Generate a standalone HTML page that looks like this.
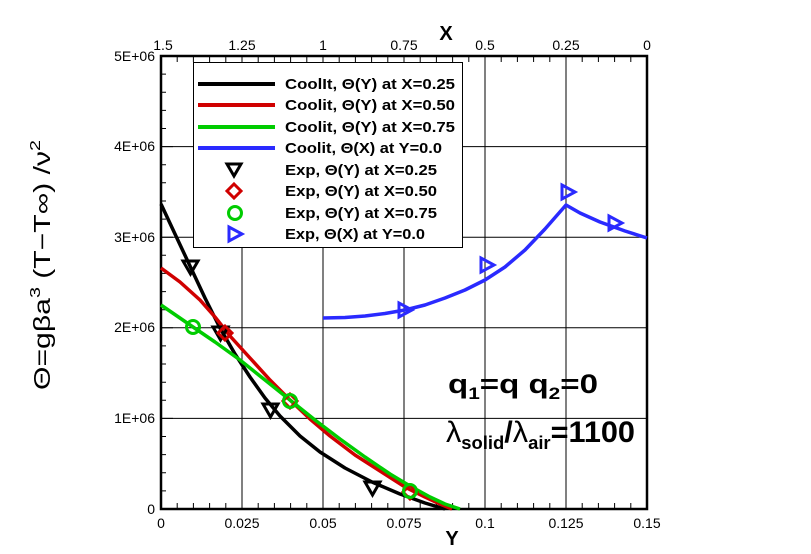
<!DOCTYPE html>
<html><head><style>body{margin:0;background:#fff}svg{display:block}</style></head><body>
<svg width="811" height="554" xmlns="http://www.w3.org/2000/svg" font-family="Liberation Sans, sans-serif">
<rect width="811" height="554" fill="#fff"/>
<g stroke="#000" stroke-width="1">
<line x1="242" y1="56" x2="242" y2="509"/><line x1="323" y1="56" x2="323" y2="509"/><line x1="404" y1="56" x2="404" y2="509"/><line x1="485" y1="56" x2="485" y2="509"/><line x1="566" y1="56" x2="566" y2="509"/>
<line x1="161" y1="418.4" x2="647" y2="418.4"/><line x1="161" y1="327.8" x2="647" y2="327.8"/><line x1="161" y1="237.2" x2="647" y2="237.2"/><line x1="161" y1="146.6" x2="647" y2="146.6"/>
</g>
<g stroke="#000" stroke-width="1">
<path d="M161 74.1h5M161 92.2h5M161 110.4h5M161 128.5h5M161 164.7h5M161 182.8h5M161 201h5M161 219.1h5M161 255.3h5M161 273.4h5M161 291.6h5M161 309.7h5M161 345.9h5M161 364h5M161 382.2h5M161 400.3h5M161 436.5h5M161 454.6h5M161 472.8h5M161 490.9h5"/>
<path d="M161 146.6h12M161 237.2h12M161 327.8h12M161 418.4h12"/>
</g>
<rect x="161" y="56" width="486" height="453" fill="none" stroke="#000" stroke-width="2.5"/>
<g stroke="#000" stroke-width="1">
<path d="M177.2 509v-6M193.4 509v-6M209.6 509v-6M225.8 509v-6M258.2 509v-6M274.4 509v-6M290.6 509v-6M306.8 509v-6M339.2 509v-6M355.4 509v-6M371.6 509v-6M387.8 509v-6M420.2 509v-6M436.4 509v-6M452.6 509v-6M468.8 509v-6M501.2 509v-6M517.4 509v-6M533.6 509v-6M549.8 509v-6M582.2 509v-6M598.4 509v-6M614.6 509v-6M630.8 509v-6"/>
<path d="M177.2 56v6M193.4 56v6M209.6 56v6M225.8 56v6M258.2 56v6M274.4 56v6M290.6 56v6M306.8 56v6M339.2 56v6M355.4 56v6M371.6 56v6M387.8 56v6M420.2 56v6M436.4 56v6M452.6 56v6M468.8 56v6M501.2 56v6M517.4 56v6M533.6 56v6M549.8 56v6M582.2 56v6M598.4 56v6M614.6 56v6M630.8 56v6"/>
</g>
<g fill="none" stroke-width="3.5" stroke-linejoin="round">
<polyline stroke="#2a2aff" points="323,318 345,317.5 365,316 385,313.5 405,310 425,305 445,298 465,290 485,280 505,267 525,250 545,229 566,205 580,213 600,222 625,231 647,238"/>
<polyline stroke="#000" points="161,204 175,234 190,266 205,298 220,328 235,354 250,377 265,398 280,416 300,436 320,452 345,468 372,482 400,494 425,503 445,509"/>
<polyline stroke="#d00000" points="161,268 180,282 200,300 215,317 230,336 250,358 270,380 290,400 310,419 330,436 355,455 380,471 405,487 425,497 440,504 452,509"/>
<polyline stroke="#00cc00" points="161,305 177,316 193,327 215,342 240,360 265,380 290,400 315,420 340,439 365,457 390,474 410,486 430,497 445,504 460,509"/>
</g>
<g fill="none" stroke-width="3">
<g stroke="#000"><path d="M183 261h15l-7.5 13z"/><path d="M213 327h15l-7.5 13z"/><path d="M263 404h15l-7.5 13z"/><path d="M365 482h15l-7.5 13z"/></g>
<g stroke="#d00000"><path d="M225 326l7 7-7 7-7-7z"/><path d="M290 394l7 7-7 7-7-7z"/><path d="M410 485l7 7-7 7-7-7z"/></g>
<g stroke="#00cc00"><circle cx="193" cy="327" r="6.5"/><circle cx="290" cy="401" r="6.5"/><circle cx="410" cy="491" r="6.5"/></g>
<g stroke="#2a2aff"><path d="M399 303v14l13-7z"/><path d="M481 258v14l13-7z"/><path d="M562 185v14l13-7z"/><path d="M609 216v14l13-7z"/></g>
</g>
<rect x="193.5" y="62.5" width="269" height="185" fill="#fff" stroke="#000" stroke-width="1"/>
<g stroke-width="4"><line x1="198" y1="84" x2="275" y2="84" stroke="#000"/><line x1="198" y1="105" x2="275" y2="105" stroke="#d00000"/><line x1="198" y1="127" x2="275" y2="127" stroke="#00cc00"/><line x1="198" y1="148" x2="275" y2="148" stroke="#2a2aff"/></g>
<g fill="none" stroke-width="3">
<path d="M227 164h14l-7 12z" stroke="#000"/>
<path d="M234 184l7 7-7 7-7-7z" stroke="#d00000"/>
<circle cx="235" cy="213" r="6.5" stroke="#00cc00"/>
<path d="M229 227v14l13-7z" stroke="#2a2aff"/>
</g>
<g font-size="15" font-weight="bold" fill="#000">
<text x="285" y="89" textLength="170" lengthAdjust="spacingAndGlyphs">CoolIt, Θ(Y) at X=0.25</text>
<text x="285" y="110" textLength="170" lengthAdjust="spacingAndGlyphs">Coolit, Θ(Y) at X=0.50</text>
<text x="285" y="132" textLength="170" lengthAdjust="spacingAndGlyphs">Coolit, Θ(Y) at X=0.75</text>
<text x="285" y="153" textLength="157" lengthAdjust="spacingAndGlyphs">Coolit, Θ(X) at Y=0.0</text>
<text x="285" y="175" textLength="152" lengthAdjust="spacingAndGlyphs">Exp, Θ(Y) at X=0.25</text>
<text x="285" y="196" textLength="152" lengthAdjust="spacingAndGlyphs">Exp, Θ(Y) at X=0.50</text>
<text x="285" y="218" textLength="152" lengthAdjust="spacingAndGlyphs">Exp, Θ(Y) at X=0.75</text>
<text x="285" y="239" textLength="140" lengthAdjust="spacingAndGlyphs">Exp, Θ(X) at Y=0.0</text>
</g>
<g font-size="14" fill="#000" text-anchor="end">
<text x="155" y="61">5E+06</text><text x="155" y="151">4E+06</text><text x="155" y="242">3E+06</text><text x="155" y="332">2E+06</text><text x="155" y="423">1E+06</text><text x="155" y="514">0</text>
</g>
<g font-size="14" fill="#000" text-anchor="middle">
<text x="161" y="528">0</text><text x="242" y="528">0.025</text><text x="323" y="528">0.05</text><text x="404" y="528">0.075</text><text x="485" y="528">0.1</text><text x="566" y="528">0.125</text><text x="647" y="528">0.15</text>
<text x="163" y="50">1.5</text><text x="242" y="50">1.25</text><text x="323" y="50">1</text><text x="404" y="50">0.75</text><text x="485" y="50">0.5</text><text x="566" y="50">0.25</text><text x="647" y="50">0</text>
</g>
<text x="446" y="40" font-size="20" font-weight="bold" text-anchor="middle">X</text>
<text x="452" y="545" font-size="20" font-weight="bold" text-anchor="middle">Y</text>
<text transform="translate(50,265) rotate(-90)" font-size="23" text-anchor="middle" textLength="250" lengthAdjust="spacingAndGlyphs">Θ=gβa<tspan font-size="15" dy="-10">3</tspan><tspan dy="10"> (T−T∞) /ν</tspan><tspan font-size="15" dy="-10">2</tspan></text>
<text x="448" y="393" font-size="27" font-weight="bold" textLength="150" lengthAdjust="spacingAndGlyphs">q<tspan font-size="17" dy="6">1</tspan><tspan dy="-6">=q  q</tspan><tspan font-size="17" dy="6">2</tspan><tspan dy="-6">=0</tspan></text>
<text x="446" y="442" font-size="30" font-weight="bold" textLength="189" lengthAdjust="spacingAndGlyphs"><tspan font-weight="normal">λ</tspan><tspan font-size="18" dy="7">solid</tspan><tspan dy="-7">/</tspan><tspan font-weight="normal">λ</tspan><tspan font-size="18" dy="7">air</tspan><tspan dy="-7">=1100</tspan></text>
</svg>
</body></html>
